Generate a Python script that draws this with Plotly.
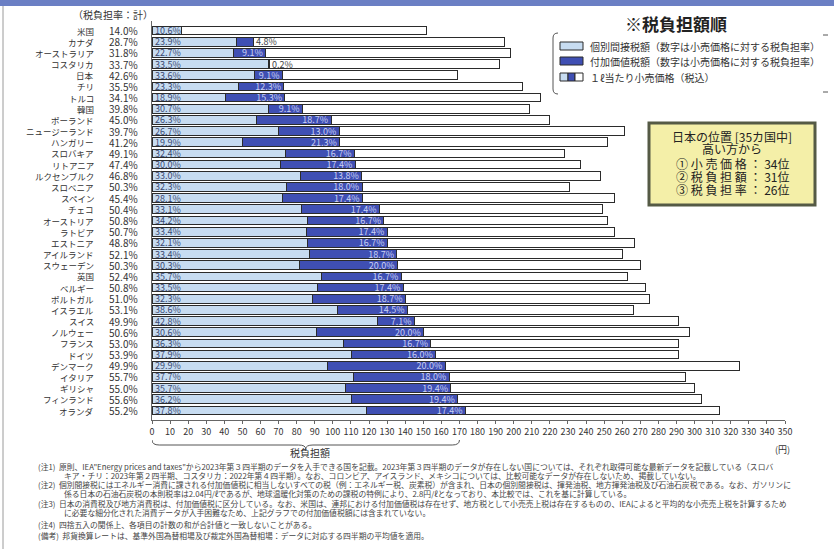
import plotly.graph_objects as go

countries = ["米国", "カナダ", "オーストラリア", "コスタリカ", "日本", "チリ", "トルコ", "韓国",
             "ポーランド", "ニュージーランド", "ハンガリー", "スロバキア", "リトアニア", "ルクセンブルク",
             "スロベニア", "スペイン", "チェコ", "オーストリア", "ラトビア", "エストニア", "アイルランド",
             "スウェーデン", "英国", "ベルギー", "ポルトガル", "イスラエル", "スイス", "ノルウェー",
             "フランス", "ドイツ", "デンマーク", "イタリア", "ギリシャ", "フィンランド", "オランダ"]
total_rate = [14.0, 28.7, 31.8, 33.7, 42.6, 35.5, 34.1, 39.8, 45.0, 39.7, 41.2, 49.1, 47.4, 46.8,
              50.3, 45.4, 50.4, 50.8, 50.7, 48.8, 52.1, 50.3, 52.4, 50.8, 51.0, 53.1, 49.9, 50.6,
              53.0, 53.9, 49.9, 55.7, 55.0, 55.6, 55.2]
indirect_rate = [10.6, 23.9, 22.7, 33.5, 33.6, 23.3, 18.9, 30.7, 26.3, 26.7, 19.9, 32.4, 30.0, 33.0,
                 32.3, 28.1, 33.1, 34.2, 33.4, 32.1, 33.4, 30.3, 35.7, 33.5, 32.3, 38.6, 42.8, 30.6,
                 36.3, 37.9, 29.9, 37.7, 35.7, 36.2, 37.8]
vat_rate = [0.0, 4.8, 9.1, 0.2, 9.1, 12.3, 15.3, 9.1, 18.7, 13.0, 21.3, 16.7, 17.4, 13.8,
            18.0, 17.4, 17.4, 16.7, 17.4, 16.7, 18.7, 20.0, 16.7, 17.4, 18.7, 14.5, 7.1, 20.0,
            16.7, 16.0, 20.0, 18.0, 19.4, 19.4, 17.4]
retail_price = [152, 195, 198, 192, 169, 205, 215, 209, 220, 261, 252, 228, 237, 248,
                231, 256, 249, 252, 256, 267, 260, 270, 263, 273, 275, 266, 291, 297,
                291, 291, 325, 295, 300, 304, 314]
x_ticks = list(range(0, 351, 10))

indirect_amt = [p * r / 100 for p, r in zip(retail_price, indirect_rate)]
vat_amt = [p * r / 100 for p, r in zip(retail_price, vat_rate)]
rest_amt = [p - a - b for p, a, b in zip(retail_price, indirect_amt, vat_amt)]

FONT = "Noto Sans CJK JP"
LIGHT = "#c7dcf1"
DARK = "#3f4fb3"
OUT = "#2b2b2b"

# plot-area pixel geometry
L, R, T, B = 152, 785, 21, 420
W, H = R - L, B - T
def px(x):
    return (x - L) / W
def py(y):
    return (B - y) / H

vat_text = [f"{v:.1f}%" if v >= 7 else "" for v in vat_rate]

fig = go.Figure()
fig.add_trace(go.Bar(
    y=countries, x=indirect_amt, orientation="h",
    marker=dict(color=LIGHT, line=dict(color=OUT, width=1)),
    text=[f"{r:.1f}%" for r in indirect_rate], textposition="inside",
    insidetextanchor="start", constraintext="none",
    textfont=dict(family=FONT, size=9, color="#3a4a72"), hoverinfo="skip"))
fig.add_trace(go.Bar(
    y=countries, x=vat_amt, orientation="h",
    marker=dict(color=DARK, line=dict(color=OUT, width=1)),
    text=vat_text, textposition="inside",
    insidetextanchor="end", constraintext="none",
    textfont=dict(family=FONT, size=9, color="#c9d0f4"), hoverinfo="skip"))
fig.add_trace(go.Bar(
    y=countries, x=rest_amt, orientation="h",
    marker=dict(color="white", line=dict(color=OUT, width=1)),
    hoverinfo="skip"))

ann = []
def note(x, y, text, size, color="#333", xanchor="center", xref="paper", yref="paper", **kw):
    ann.append(dict(x=x, y=y, xref=xref, yref=yref, text=text, showarrow=False,
                    xanchor=xanchor, yanchor="middle", font=dict(family=FONT, size=size, color=color), **kw))

for c, tr in zip(countries, total_rate):
    note(px(96), c, c, 8.5, xanchor="right", yref="y")
    note(px(107), c, f"{tr:.1f}%", 10, xanchor="left", yref="y")
for c, a, b, v in zip(countries, indirect_amt, vat_amt, vat_rate):
    if 0 < v < 7:
        note(a + b, c, f"{v:.1f}%", 9, color="#444", xanchor="left", xref="x", yref="y", xshift=1)

note(px(113), py(15), "（税負担率：計）", 10)
note(px(676), py(23), "<b>※税負担額順</b>", 17, color="#222")
legend_items = [("個別間接税額（数字は小売価格に対する税負担率）", 46),
                ("付加価値税額（数字は小売価格に対する税負担率）", 61),
                ("１ℓ当たり小売価格（税込）", 77)]
for txt, yy in legend_items:
    note(px(588), py(yy), txt, 10, xanchor="left")
box_lines = [("日本の位置 [35カ国中]", 136), ("高い方から", 148), ("① 小 売 価 格 ： 34位", 163),
             ("② 税 負 担 額 ： 31位", 176), ("③ 税 負 担 率 ： 26位", 189)]
for txt, yy in box_lines:
    note(px(732), py(yy), txt, 12, color="#222")
note(px(310), py(452), "税負担額", 10)
note(px(782), py(449), "(円)", 9)

notes = [
    ("(注1)  原則、IEA\"Energy prices and taxes\"から2023年第３四半期のデータを入手できる国を記載。2023年第３四半期のデータが存在しない国については、それぞれ取得可能な最新データを記載している（スロバ", 36, 466),
    ("キア・チリ：2023年第２四半期、コスタリカ：2022年第４四半期）。なお、コロンビア、アイスランド、メキシコについては、比較可能なデータが存在しないため、掲載していない。", 62, 475),
    ("(注2)  個別間接税にはエネルギー消費に課される付加価値税に相当しないすべての税（例：エネルギー税、炭素税）が含まれ、日本の個別間接税は、揮発油税、地方揮発油税及び石油石炭税である。なお、ガソリンに", 36, 484),
    ("係る日本の石油石炭税の本則税率は2.04円/ℓであるが、地球温暖化対策のための課税の特例により、2.8円/ℓとなっており、本比較では、これを基に計算している。", 62, 493),
    ("(注3)  日本の消費税及び地方消費税は、付加価値税に区分している。なお、米国は、連邦における付加価値税は存在せず、地方税として小売売上税は存在するものの、IEAによると平均的な小売売上税を計算するため", 36, 503),
    ("に必要な細分化された消費データが入手困難なため、上記グラフでの付加価値税額には含まれていない。", 62, 512),
    ("(注4)  四捨五入の関係上、各項目の計数の和が合計値と一致しないことがある。", 36, 524),
    ("(備考)  邦貨換算レートは、基準外国為替相場及び裁定外国為替相場：データに対応する四半期の平均値を適用。", 36, 535),
]
for txt, xx, yy in notes:
    note(px(xx), py(yy), txt, 7.8, color="#444", xanchor="left")

shapes = []
# top band
shapes.append(dict(type="rect", xref="paper", yref="paper", x0=px(0), x1=px(834), y0=py(0), y1=py(6),
                   fillcolor="#6b7fc4", line=dict(width=0), layer="below"))
# page frame left
shapes.append(dict(type="line", xref="paper", yref="paper", x0=px(3), x1=px(3), y0=py(6), y1=py(549),
                   line=dict(color="#9a9a9a", width=1)))
# legend bracket
shapes.append(dict(type="path", xref="paper", yref="paper",
                   path=f"M {px(558)},{py(33)} Q {px(553)},{py(33)} {px(553)},{py(38)} L {px(553)},{py(89)} Q {px(553)},{py(94)} {px(558)},{py(94)}",
                   line=dict(color="#555", width=1)))
for yy in (35, 92):
    shapes.append(dict(type="line", xref="paper", yref="paper", x0=px(823), x1=px(828), y0=py(yy), y1=py(yy),
                       line=dict(color="#555", width=1)))
# legend swatches
shapes.append(dict(type="rect", xref="paper", yref="paper", x0=px(560), x1=px(583), y0=py(50), y1=py(42),
                   fillcolor=LIGHT, line=dict(color=OUT, width=1)))
shapes.append(dict(type="rect", xref="paper", yref="paper", x0=px(560), x1=px(583), y0=py(65), y1=py(57),
                   fillcolor=DARK, line=dict(color=OUT, width=1)))
for x0, x1, col in ((560, 568, LIGHT), (568, 575, DARK), (575, 583, "white")):
    shapes.append(dict(type="rect", xref="paper", yref="paper", x0=px(x0), x1=px(x1), y0=py(81), y1=py(73),
                       fillcolor=col, line=dict(color=OUT, width=1)))
# Japan box
shapes.append(dict(type="rect", xref="paper", yref="paper", x0=px(649), x1=px(815), y0=py(205), y1=py(123),
                   fillcolor="#f4efa8", line=dict(color="#555a45", width=3)))
# brace under axis
y0b, y1b, y2b = py(440), py(445), py(449)
xl, xr = 0, 170
xm = (xl + xr) / 2
shapes.append(dict(type="path", xref="x", yref="paper",
                   path=(f"M {xl},{y0b} Q {xl},{y1b} {xl+4},{y1b} L {xm-4},{y1b} Q {xm},{y1b} {xm},{y2b} "
                         f"Q {xm},{y1b} {xm+4},{y1b} L {xr-4},{y1b} Q {xr},{y1b} {xr},{y0b}"),
                   line=dict(color="#555", width=1)))

fig.update_layout(
    barmode="stack", bargap=0.22, showlegend=False,
    width=834, height=549, margin=dict(l=L, r=834 - R, t=T, b=549 - B),
    paper_bgcolor="white", plot_bgcolor="white",
    font=dict(family=FONT, color="#333"),
    annotations=ann, shapes=shapes,
    xaxis=dict(range=[0, 350], tickvals=x_ticks, ticktext=[str(v) for v in x_ticks],
               showgrid=False, zeroline=False, showline=True, linecolor="#666", linewidth=1,
               ticks="outside", ticklen=3, tickcolor="#666",
               tickfont=dict(family=FONT, size=9, color="#333")),
    yaxis=dict(autorange="reversed", showticklabels=False, showgrid=False, zeroline=False,
               showline=True, linecolor="#666", linewidth=1, ticks=""),
)

fig.write_html("out.html")
